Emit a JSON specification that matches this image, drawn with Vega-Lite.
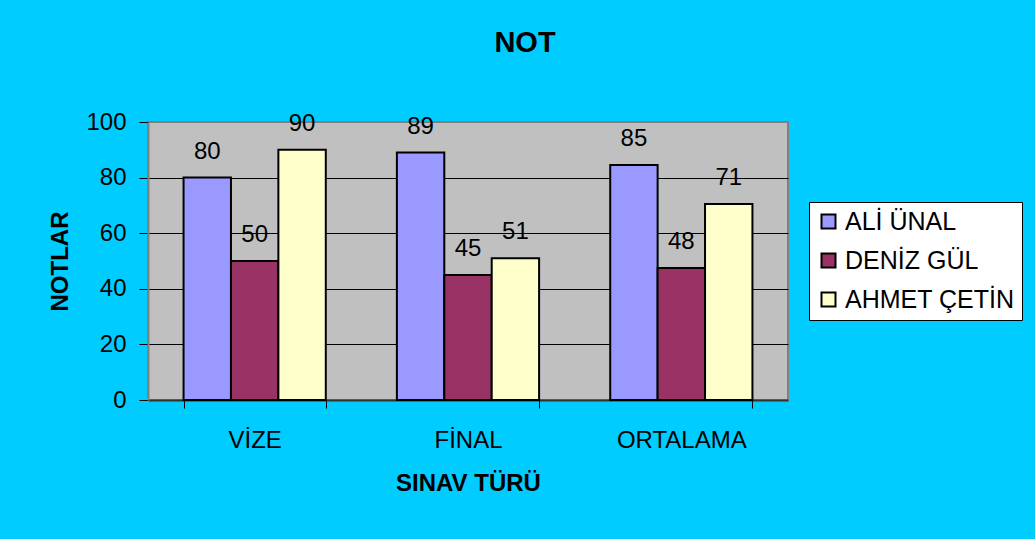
{
  "$schema": "https://vega.github.io/schema/vega-lite/v6.json",
  "width": 640,
  "height": 278,
  "autosize": "none",
  "padding": {"left": 148, "top": 122, "right": 247, "bottom": 139},
  "background": "#00CCFF",
  "config": {
    "font": "Liberation Sans",
    "view": {"fill": "#C0C0C0", "stroke": "#808080", "strokeWidth": 2}
  },
  "title": {
    "text": "NOT",
    "font": "Liberation Sans",
    "fontSize": 29,
    "fontWeight": "bold",
    "color": "black",
    "anchor": "middle",
    "baseline": "alphabetic",
    "dx": 57,
    "offset": 29
  },
  "data": {
    "values": [
      {"tur": "VİZE", "ogrenci": "ALİ ÜNAL", "not": 80},
      {"tur": "VİZE", "ogrenci": "DENİZ GÜL", "not": 50},
      {"tur": "VİZE", "ogrenci": "AHMET ÇETİN", "not": 90},
      {"tur": "FİNAL", "ogrenci": "ALİ ÜNAL", "not": 89},
      {"tur": "FİNAL", "ogrenci": "DENİZ GÜL", "not": 45},
      {"tur": "FİNAL", "ogrenci": "AHMET ÇETİN", "not": 51},
      {"tur": "ORTALAMA", "ogrenci": "ALİ ÜNAL", "not": 84.5},
      {"tur": "ORTALAMA", "ogrenci": "DENİZ GÜL", "not": 47.5},
      {"tur": "ORTALAMA", "ogrenci": "AHMET ÇETİN", "not": 70.5}
    ]
  },
  "encoding": {
    "x": {
      "field": "tur",
      "type": "nominal",
      "sort": ["VİZE", "FİNAL", "ORTALAMA"],
      "scale": {"paddingInner": 0.3333, "paddingOuter": 0.1667},
      "axis": {
        "title": "SINAV TÜRÜ",
        "titleFontSize": 24,
        "titleFontWeight": "bold",
        "titleColor": "black",
        "titleBaseline": "alphabetic",
        "titleY": 90,
        "labelAngle": 0,
        "labelFontSize": 24,
        "labelColor": "black",
        "labelBaseline": "alphabetic",
        "labelPadding": 39,
        "tickBand": "extent",
        "tickSize": 8,
        "tickColor": "black",
        "domainColor": "#333333",
        "domainWidth": 2
      }
    },
    "xOffset": {
      "field": "ogrenci",
      "type": "nominal",
      "sort": ["ALİ ÜNAL", "DENİZ GÜL", "AHMET ÇETİN"],
      "scale": {"paddingInner": 0, "paddingOuter": 0}
    },
    "y": {
      "field": "not",
      "type": "quantitative",
      "scale": {"domain": [0, 100]},
      "axis": {
        "values": [0, 20, 40, 60, 80, 100],
        "title": "NOTLAR",
        "titleFontSize": 24,
        "titleFontWeight": "bold",
        "titleColor": "black",
        "titleAngle": -90,
        "titleBaseline": "alphabetic",
        "titleAlign": "center",
        "titleX": -81,
        "titleY": 139,
        "labelFontSize": 24,
        "labelColor": "black",
        "labelPadding": 13,
        "tickSize": 9,
        "tickColor": "black",
        "domainColor": "#808080",
        "domainWidth": 2,
        "grid": true,
        "gridColor": {"condition": {"test": "datum.value === 100 || datum.value === 0", "value": "#808080"}, "value": "black"},
        "gridWidth": 1
      }
    }
  },
  "layer": [
    {
      "mark": {"type": "bar", "stroke": "black", "strokeWidth": 2},
      "encoding": {
        "color": {
          "field": "ogrenci",
          "type": "nominal",
          "scale": {
            "domain": ["ALİ ÜNAL", "DENİZ GÜL", "AHMET ÇETİN"],
            "range": ["#9999FF", "#993366", "#FFFFCC"]
          },
          "legend": {
            "title": null,
            "orient": "none",
            "legendX": 661,
            "legendY": 80,
            "fillColor": "white",
            "strokeColor": "black",
            "padding": 7,
            "labelFontSize": 25,
            "labelColor": "black",
            "labelOffset": 4,
            "labelLimit": 400,
            "symbolType": "square",
            "symbolSize": 196,
            "symbolStrokeColor": "black",
            "symbolStrokeWidth": 2,
            "symbolOpacity": 1,
            "rowPadding": 13
          }
        }
      }
    },
    {
      "mark": {"type": "text", "fontSize": 24, "baseline": "alphabetic", "dy": -19, "color": "black"},
      "encoding": {
        "text": {"field": "not", "type": "quantitative", "format": ".0f"}
      }
    }
  ]
}
